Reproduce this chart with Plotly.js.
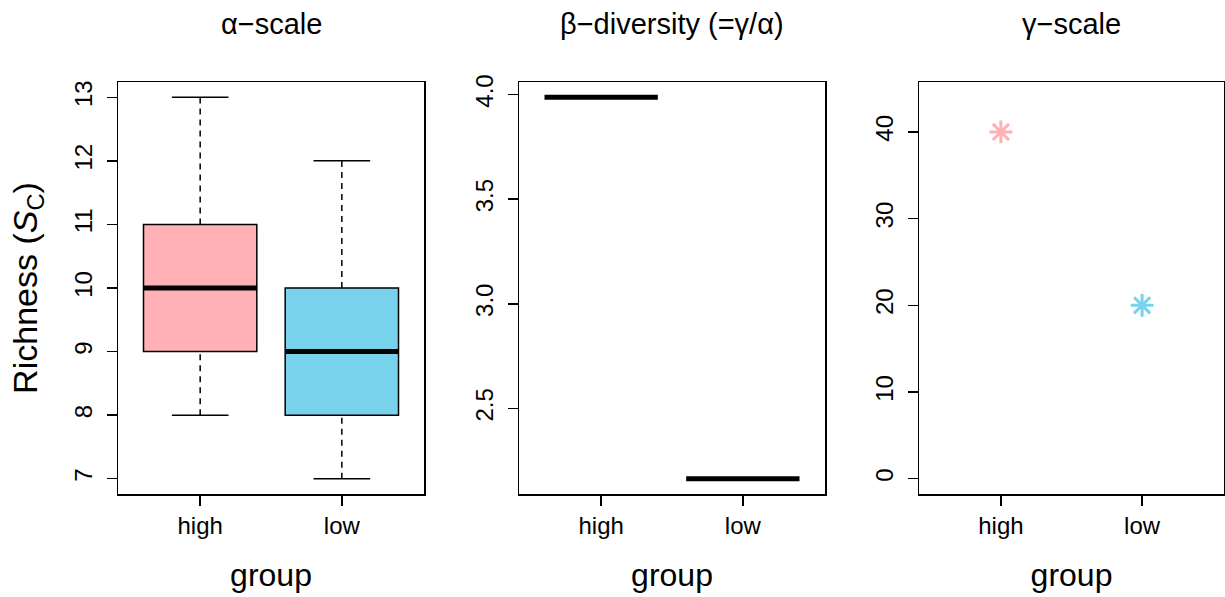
<!DOCTYPE html>
<html>
<head>
<meta charset="utf-8">
<script src="https://cdn.plot.ly/plotly-3.0.1.min.js"></script>
<style>html,body{margin:0;padding:0;background:#fff;}#chart{width:1225px;height:597px;}</style>
</head>
<body>
<div id="chart"></div>
<script>
// ---- data ----
const groups = ['high', 'low'];
const groupPos = [1, 2];
const groupColors = ['#FFB1B5', '#78D2EC'];
// alpha-scale richness boxplot statistics
const alphaMin = [8, 7];
const alphaQ1 = [9, 8];
const alphaMedian = [10, 9];
const alphaQ3 = [11, 10];
const alphaMax = [13, 12];
// beta diversity (= gamma / alpha)
const betaValues = [3.987, 2.164];
// gamma-scale richness
const gammaValues = [40, 20];
// tick labels
const alphaTicks = [7, 8, 9, 10, 11, 12, 13];
const betaTicks = [2.5, 3.0, 3.5, 4.0];
const gammaTicks = [0, 10, 20, 30, 40];
const panelTitles = ['α\u2212scale', 'β\u2212diversity (=γ/α)', 'γ\u2212scale'];

// ---- style ----
const BOXW = 0.8, CAPW = 0.4;
const traces = [];

// panel 1: boxplots
groups.forEach((g, i) => {
  const x = groupPos[i];
  traces.push({
    type: 'box', xaxis: 'x', yaxis: 'y', name: g,
    x: [x], q1: [alphaQ1[i]], median: [alphaMedian[i]], q3: [alphaQ3[i]],
    lowerfence: [alphaQ1[i]], upperfence: [alphaQ3[i]],
    width: BOXW, fillcolor: groupColors[i], whiskerwidth: 0,
    line: {color: 'black', width: 1.5}, hoverinfo: 'skip'
  });
  traces.push({
    type: 'scatter', mode: 'lines', xaxis: 'x', yaxis: 'y',
    x: [x, x, null, x, x], y: [alphaMin[i], alphaQ1[i], null, alphaQ3[i], alphaMax[i]],
    line: {color: 'black', width: 1.5, dash: '6px,5px'}, hoverinfo: 'skip'
  });
  traces.push({
    type: 'scatter', mode: 'lines', xaxis: 'x', yaxis: 'y',
    x: [x - CAPW / 2, x + CAPW / 2, null, x - CAPW / 2, x + CAPW / 2],
    y: [alphaMin[i], alphaMin[i], null, alphaMax[i], alphaMax[i]],
    line: {color: 'black', width: 1.5}, hoverinfo: 'skip'
  });
  traces.push({
    type: 'scatter', mode: 'lines', xaxis: 'x', yaxis: 'y',
    x: [x - BOXW / 2, x + BOXW / 2], y: [alphaMedian[i], alphaMedian[i]],
    line: {color: 'black', width: 5}, hoverinfo: 'skip'
  });
});

// panel 2: beta (single-value boxplots -> thick median lines)
groups.forEach((g, i) => {
  const x = groupPos[i];
  traces.push({
    type: 'scatter', mode: 'lines', xaxis: 'x2', yaxis: 'y2',
    x: [x - BOXW / 2, x + BOXW / 2], y: [betaValues[i], betaValues[i]],
    line: {color: 'black', width: 5}, hoverinfo: 'skip'
  });
});

// panel 3: gamma points
traces.push({
  type: 'scatter', mode: 'markers', xaxis: 'x3', yaxis: 'y3',
  x: groupPos, y: gammaValues,
  marker: {symbol: 'asterisk-open', size: 19, color: groupColors,
           line: {color: groupColors, width: 3}},
  hoverinfo: 'skip'
});

const W = 1225, H = 597;
const yDom = [1 - 494 / H, 1 - 82 / H];
const xDoms = [[118 / W, 424 / W], [519 / W, 825 / W], [919 / W, 1224 / W]];

function axisBase() {
  return {
    showline: true, mirror: true, linecolor: 'black', linewidth: 1.5,
    ticks: 'outside', ticklen: 10, tickwidth: 1.5, tickcolor: 'black',
    showgrid: false, zeroline: false, fixedrange: true,
    tickfont: {size: 24, color: 'black'}
  };
}
function xAxis(i) {
  return Object.assign(axisBase(), {
    domain: xDoms[i], range: [0.42, 2.58], anchor: i === 0 ? 'y' : 'y' + (i + 1),
    tickmode: 'array', tickvals: groupPos, ticktext: groups,
    title: {text: 'group', font: {size: 32, color: 'black'}, standoff: 25}
  });
}
function yAxis(i, range, ticks, fmt) {
  return Object.assign(axisBase(), {
    domain: yDom, range: range, anchor: i === 0 ? 'x' : 'x' + (i + 1),
    tickmode: 'array', tickvals: ticks, ticktext: ticks.map(fmt), tickangle: -90,
    ticklabelstandoff: 5
  });
}

const layout = {
  width: W, height: H, margin: {l: 0, r: 0, t: 0, b: 0},
  paper_bgcolor: 'white', plot_bgcolor: 'white', showlegend: false,
  font: {family: 'Liberation Sans, Arial, sans-serif', color: 'black'},
  xaxis: xAxis(0), xaxis2: xAxis(1), xaxis3: xAxis(2),
  yaxis: Object.assign(yAxis(0, [6.76, 13.24], alphaTicks, v => String(v)), {
    title: {text: 'Richness (<i>S</i><sub>C</sub>)', font: {size: 34, color: 'black'}, standoff: 22}
  }),
  yaxis2: yAxis(1, [2.091, 4.06], betaTicks, v => v.toFixed(1)),
  yaxis3: yAxis(2, [-1.76, 45.76], gammaTicks, v => String(v)),
  annotations: panelTitles.map((t, i) => ({
    text: t, xref: 'paper', yref: 'paper',
    x: (xDoms[i][0] + xDoms[i][1]) / 2, y: 1 - 24 / H,
    xanchor: 'center', yanchor: 'middle', showarrow: false,
    font: {size: 29, color: 'black'}
  }))
};

Plotly.newPlot('chart', traces, layout, {staticPlot: true, displayModeBar: false});
</script>
</body>
</html>
